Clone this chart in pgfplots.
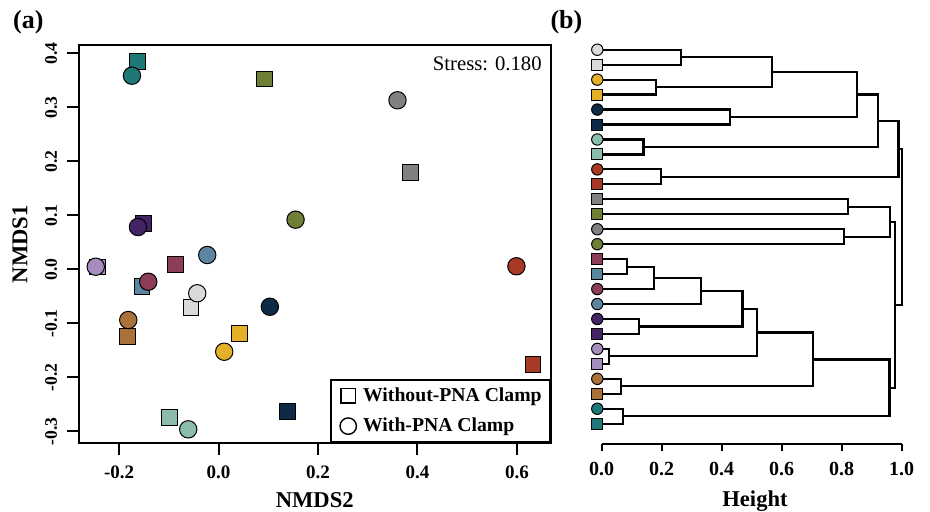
\documentclass[border=0pt]{standalone}
\usepackage{pgfplots}
\pgfplotsset{compat=1.18}
\usepackage{pgfplotstable}
\usepackage{fontspec}
\setmainfont{Liberation Serif}

\definecolor{cLG}{HTML}{DADADA}
\definecolor{cY}{HTML}{E4B027}
\definecolor{cN}{HTML}{0D2A47}
\definecolor{cM}{HTML}{8CBCAC}
\definecolor{cR}{HTML}{A73A24}
\definecolor{cG}{HTML}{808080}
\definecolor{cO}{HTML}{6F7F36}
\definecolor{cMA}{HTML}{8B3D5A}
\definecolor{cSB}{HTML}{5C86A0}
\definecolor{cP}{HTML}{432565}
\definecolor{cL}{HTML}{A68DC0}
\definecolor{cB}{HTML}{A8723A}
\definecolor{cT}{HTML}{1E7876}

\pgfplotsset{
  colclasses/.style={
    scatter/classes={
      LG={draw=black,fill=cLG}, Y={draw=black,fill=cY}, N={draw=black,fill=cN},
      M={draw=black,fill=cM}, R={draw=black,fill=cR}, G={draw=black,fill=cG},
      O={draw=black,fill=cO}, MA={draw=black,fill=cMA}, SB={draw=black,fill=cSB},
      P={draw=black,fill=cP}, L={draw=black,fill=cL}, B={draw=black,fill=cB},
      T={draw=black,fill=cT}}},
  br/.style={black, solid, line width=1.1pt, mark=none, line join=miter},
}

% NMDS scores, Without-PNA Clamp (squares)
\pgfplotstableread{
x y g
-0.1636 0.3844 T
0.0931 0.3524 O
0.3859 0.1796 G
-0.1516 0.0852 P
-0.2432 0.0043 L
-0.0864 0.0085 MA
-0.1542 -0.0322 SB
-0.0557 -0.0704 LG
0.0428 -0.1193 Y
-0.1829 -0.1248 B
0.1379 -0.2637 N
-0.0985 -0.2748 M
0.6324 -0.1767 R
}\sqdata

% NMDS scores, With-PNA Clamp (circles)
\pgfplotstableread{
x y g
-0.1743 0.3585 T
0.3598 0.3130 G
-0.1622 0.0783 P
0.1548 0.0919 O
-0.0229 0.0265 SB
-0.2472 0.0048 L
0.5990 0.0056 R
-0.1415 -0.0230 MA
-0.0430 -0.0444 LG
0.1031 -0.0693 N
-0.1817 -0.0939 B
0.0113 -0.1526 Y
-0.0611 -0.2963 M
}\cidata

% dendrogram leaves (height, order)
\pgfplotstableread{
x y g
-0.0147 2 LG
-0.0147 4 Y
-0.0147 6 N
-0.0147 8 M
-0.0147 10 R
-0.0147 11 G
-0.0147 12 O
-0.0147 15 MA
-0.0147 16 SB
-0.0147 20 P
-0.0147 22 L
-0.0147 24 B
-0.0147 26 T
}\leafsq
\pgfplotstableread{
x y g
-0.0147 1 LG
-0.0147 3 Y
-0.0147 5 N
-0.0147 7 M
-0.0147 9 R
-0.0147 13 G
-0.0147 14 O
-0.0147 17 MA
-0.0147 18 SB
-0.0147 19 P
-0.0147 21 L
-0.0147 23 B
-0.0147 25 T
}\leafci

\begin{document}
\begin{tikzpicture}
\useasboundingbox (0,0) rectangle (465pt,255.5pt);

% ---------------- (a) NMDS ----------------
\begin{axis}[
  at={(39.35pt,33.85pt)}, anchor=south west,
  scale only axis, width=236pt, height=199pt,
  xmin=-0.2814, xmax=0.668, ymin=-0.3222, ymax=0.4148,
  xtick={-0.2,0,0.2,0.4,0.6}, xticklabels={-0.2,0.0,0.2,0.4,0.6},
  ytick={-0.3,-0.2,-0.1,0,0.1,0.2,0.3,0.4},
  yticklabels={-0.3,-0.2,-0.1,0.0,0.1,0.2,0.3,0.4},
  xtick pos=bottom, ytick pos=left,
  tick align=outside, major tick length=5.75pt,
  tick style={black, line width=1pt},
  axis line style={line width=1pt},
  xticklabel style={anchor=north, inner sep=0pt, font=\bfseries\fontsize{9.5}{11}\selectfont},
  yticklabel style={rotate=90, anchor=south, inner sep=0pt, font=\bfseries\fontsize{8.8}{10}\selectfont},
  xticklabel shift=5.1pt, yticklabel shift=4.85pt,
  clip=false,
  legend style={at={(1,0)}, anchor=south east, draw=black, line width=1pt,
    font=\bfseries\fontsize{9.85}{11}\selectfont, inner xsep=4pt, inner ysep=3.65pt,
    row sep=6.5pt, column sep=3pt, nodes={inner sep=0pt}},
  legend cell align=left,
]
\addlegendimage{legend image code/.code={\draw[black,line width=0.7pt,fill=white] (-3.6pt,-3.6pt) rectangle (3.6pt,3.6pt);}}
\addlegendentry{Without-PNA Clamp}
\addlegendimage{legend image code/.code={\draw[black,line width=0.7pt,fill=white] (0pt,0pt) circle (4.1pt);}}
\addlegendentry{With-PNA Clamp}

\addplot[scatter, only marks, mark=square*, mark size=3.95pt, line width=0.5pt,
  colclasses, scatter src=explicit symbolic] table[x=x, y=y, meta=g] {\sqdata};
\addplot[scatter, only marks, mark=*, mark size=4.35pt, line width=0.5pt,
  colclasses, scatter src=explicit symbolic] table[x=x, y=y, meta=g] {\cidata};

\node[anchor=north east, inner sep=0pt, xshift=-4.35pt, yshift=-5.35pt,
  font=\fontsize{10.35}{12}\selectfont] at (rel axis cs:1,1) {Stress: 0.180};
\end{axis}

% ---------------- (b) dendrogram ----------------
\begin{axis}[
  at={(300.85pt,33.5pt)}, anchor=south west,
  scale only axis, width=150pt, height=202pt,
  xmin=0, xmax=1, ymin=0.3516, ymax=27.357, y dir=reverse,
  axis x line*=bottom, axis y line=none,
  xtick={0,0.2,0.4,0.6,0.8,1}, xticklabels={0.0,0.2,0.4,0.6,0.8,1.0},
  tick align=outside, major tick length=3.3pt,
  tick style={black, line width=1pt},
  axis line style={line width=1pt},
  xticklabel style={anchor=north, inner sep=0pt, font=\bfseries\fontsize{10}{12}\selectfont},
  xticklabel shift=5.55pt,
  clip=false,
]
\addplot[br] coordinates {(0,1) (0.263,1) (0.263,2) (0,2)};
\addplot[br] coordinates {(0,3) (0.181,3) (0.181,4) (0,4)};
\addplot[br] coordinates {(0.263,1.5) (0.567,1.5) (0.567,3.5) (0.181,3.5)};
\addplot[br] coordinates {(0,5) (0.428,5) (0.428,6) (0,6)};
\addplot[br] coordinates {(0.567,2.5) (0.852,2.5) (0.852,5.5) (0.428,5.5)};
\addplot[br] coordinates {(0,7) (0.139,7) (0.139,8) (0,8)};
\addplot[br] coordinates {(0.852,4) (0.922,4) (0.922,7.5) (0.139,7.5)};
\addplot[br] coordinates {(0,9) (0.198,9) (0.198,10) (0,10)};
\addplot[br] coordinates {(0.922,5.75) (0.989,5.75) (0.989,9.5) (0.198,9.5)};
\addplot[br] coordinates {(0,11) (0.82,11) (0.82,12) (0,12)};
\addplot[br] coordinates {(0,13) (0.807,13) (0.807,14) (0,14)};
\addplot[br] coordinates {(0.82,11.5) (0.961,11.5) (0.961,13.5) (0.807,13.5)};
\addplot[br] coordinates {(0,15) (0.083,15) (0.083,16) (0,16)};
\addplot[br] coordinates {(0.083,15.5) (0.174,15.5) (0.174,17) (0,17)};
\addplot[br] coordinates {(0.174,16.25) (0.332,16.25) (0.332,18) (0,18)};
\addplot[br] coordinates {(0,19) (0.125,19) (0.125,20) (0,20)};
\addplot[br] coordinates {(0.332,17.125) (0.469,17.125) (0.469,19.5) (0.125,19.5)};
\addplot[br] coordinates {(0,21) (0.023,21) (0.023,22) (0,22)};
\addplot[br] coordinates {(0.469,18.3125) (0.517,18.3125) (0.517,21.5) (0.023,21.5)};
\addplot[br] coordinates {(0,23) (0.063,23) (0.063,24) (0,24)};
\addplot[br] coordinates {(0.517,19.90625) (0.705,19.90625) (0.705,23.5) (0.063,23.5)};
\addplot[br] coordinates {(0,25) (0.07,25) (0.07,26) (0,26)};
\addplot[br] coordinates {(0.705,21.703125) (0.959,21.703125) (0.959,25.5) (0.07,25.5)};
\addplot[br] coordinates {(0.961,12.5) (0.977,12.5) (0.977,23.6015625) (0.959,23.6015625)};
\addplot[br] coordinates {(0.989,7.625) (1.0,7.625) (1.0,18.05078) (0.977,18.05078)};

\addplot[scatter, only marks, mark=square*, mark size=2.75pt, line width=0.5pt,
  colclasses, scatter src=explicit symbolic] table[x=x, y=y, meta=g] {\leafsq};
\addplot[scatter, only marks, mark=*, mark size=2.85pt, line width=0.5pt,
  colclasses, scatter src=explicit symbolic] table[x=x, y=y, meta=g] {\leafci};
\end{axis}

% ---------------- labels ----------------
\node[rotate=90, anchor=south, inner sep=0pt, font=\bfseries\fontsize{11.3}{13}\selectfont]
  at (14pt,133.35pt) {NMDS1};
\node[anchor=north, inner sep=0pt, font=\bfseries\fontsize{11.3}{13}\selectfont]
  at (157.35pt,9.65pt) {NMDS2};
\node[anchor=north, inner sep=0pt, font=\bfseries\fontsize{11.3}{13}\selectfont]
  at (377.5pt,10.5pt) {Height};
\node[anchor=base west, inner sep=0pt, font=\bfseries\fontsize{13}{15}\selectfont]
  at (6.35pt,241.25pt) {(a)};
\node[anchor=base east, inner sep=0pt, font=\bfseries\fontsize{13}{15}\selectfont]
  at (291.35pt,241.25pt) {(b)};
\end{tikzpicture}
\end{document}
